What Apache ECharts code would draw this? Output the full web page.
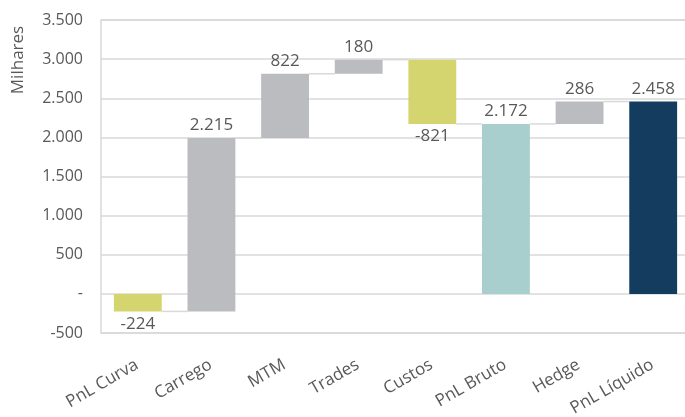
<!DOCTYPE html>
<html><head><meta charset="utf-8">
<script src="https://cdn.jsdelivr.net/npm/echarts@6/dist/echarts.min.js"></script>
<style>html,body{margin:0;padding:0;background:#fff}#c{width:685px;height:417px}</style>
</head><body><div id="c"></div>
<script>
const categories = ['PnL Curva','Carrego','MTM','Trades','Custos','PnL Bruto','Hedge','PnL Líquido'];
const values = [-224, 2215, 822, 180, -821, 2172, 286, 2458];
const isTotal = [false, false, false, false, false, true, false, true];
const yMin = -500, yMax = 3500, yStep = 500;
const yTitle = 'Milhares';

const barColors = ['#d4d56f','#bbbcc0','#bbbcc0','#bbbcc0','#d4d56f','#a8cece','#bbbcc0','#133c5f'];

function fmt(v){
  const s = Math.abs(v).toString().replace(/\B(?=(\d{3})+(?!\d))/g, '.');
  return (v < 0 ? '-' : '') + s;
}

// derive bases & ends
const bases = [], ends = [];
let run = 0;
values.forEach((v,i)=>{
  if (isTotal[i]) { bases.push(0); ends.push(v); run = v; }
  else { bases.push(run); run += v; ends.push(run); }
});

const font = '"Open Sans", sans-serif';
const txt = '#595959';
const chart = echarts.init(document.getElementById('c'));
chart.setOption({
  animation:false,
  grid:{left:101, top:20, height:313, width:589, outerBoundsMode:'none', containLabel:false,
        show:true, borderColor:'#d9d9d9', borderWidth:1.5},
  graphic:[{type:'text', x:18, y:60, rotation:Math.PI/2,
    style:{text:yTitle, fill:txt, font:'17px "Open Sans", sans-serif', textAlign:'center', textVerticalAlign:'middle'}}],
  xAxis:{type:'category', data:categories,
    axisLine:{show:false}, axisTick:{show:false},
    axisLabel:{rotate:30, color:txt, fontSize:17, fontFamily:font, margin:30, padding:[0,1,0,0], interval:0}},
  yAxis:{type:'value', min:yMin, max:yMax, interval:yStep,
    axisLine:{show:false}, axisTick:{show:false},
    splitLine:{lineStyle:{color:'#d9d9d9', width:1.5}},
    axisLabel:{color:txt, fontSize:16, fontFamily:font, margin:18,
      formatter:v=> v===0 ? '-' : fmt(v)}},
  series:[
    {type:'bar', stack:'w', stackStrategy:'all', data:bases, barWidth:'65%',
     itemStyle:{color:'transparent'}, silent:true},
    {type:'bar', stack:'w', stackStrategy:'all', barWidth:'65%',
     data: values.map((v,i)=>({value: v,
       itemStyle:{color:barColors[i]},
       label:{show:true, position: v<0 ? 'bottom':'top', distance:4}})),
     label:{color:txt, fontSize:17, fontFamily:font, formatter:p=>fmt(p.value)}},
    {type:'custom', silent:true, z:1,
     data: ends.slice(0, ends.length-1).map((e,i)=>[i, e]),
     renderItem:(params, api)=>{
       const i = api.value(0), lvl = api.value(1);
       const p1 = api.coord([i, lvl]), p2 = api.coord([i+1, lvl]);
       const bw = api.size([1,0])[0]*0.65;
       return {type:'line', shape:{x1:p1[0]+bw/2, y1:p1[1], x2:p2[0]-bw/2, y2:p2[1]},
         style:{stroke:'#d9d9d9', lineWidth:1.5}};
     }}
  ]
});
</script></body></html>
